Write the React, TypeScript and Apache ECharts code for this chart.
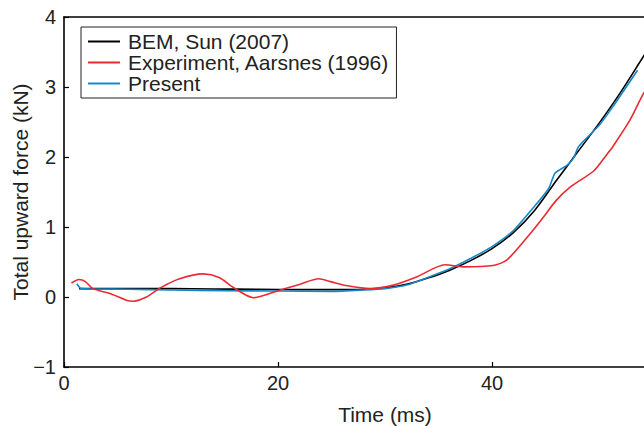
import React, { useEffect, useRef } from "react";
import * as echarts from "echarts";

// Time samples (ms) and total upward force (kN) for each curve
const bemTime = [1.4, 3, 6, 10, 14, 18, 22, 25, 28, 30, 32, 34, 36, 38, 40, 42, 44, 46, 48, 50, 52, 54, 55];
const bemForce = [0.12, 0.12, 0.12, 0.12, 0.115, 0.11, 0.105, 0.105, 0.11, 0.13, 0.18, 0.27, 0.38, 0.52, 0.69, 0.92, 1.24, 1.66, 2.07, 2.48, 2.92, 3.4, 3.64];

const expTime = [0.7, 1.4, 2.0, 2.7, 4.3, 5.9, 6.5, 7.7, 9.0, 10.8, 13.0, 14.5, 15.8, 17.7, 20.2, 22, 23.8, 24.9, 26.5, 28.6, 30.8, 33, 35.6, 37.3, 40.1, 41.4, 43.6, 44.8, 46.0, 47.3, 49.5, 50.7, 51.3, 52.9, 54.1, 55];
const expForce = [0.2, 0.25, 0.22, 0.12, 0.05, -0.05, -0.06, 0.0, 0.13, 0.26, 0.33, 0.28, 0.14, -0.01, 0.1, 0.18, 0.26, 0.22, 0.16, 0.12, 0.17, 0.29, 0.46, 0.43, 0.45, 0.53, 0.91, 1.14, 1.38, 1.57, 1.8, 2.03, 2.15, 2.53, 2.89, 3.1];

const presentTime = [1.2, 1.6, 3, 6, 10, 15, 20, 25, 28, 30, 32, 34, 36, 38, 40, 42, 44, 45.3, 45.9, 47, 47.6, 48.1, 50, 51.3, 53.6];
const presentForce = [0.19, 0.12, 0.115, 0.11, 0.1, 0.09, 0.085, 0.08, 0.1, 0.12, 0.17, 0.28, 0.4, 0.55, 0.72, 0.95, 1.3, 1.55, 1.77, 1.88, 1.98, 2.15, 2.45, 2.72, 3.24];

const seriesNames = ["BEM, Sun (2007)", "Experiment, Aarsnes (1996)", "Present"];
const seriesColors = ["#000000", "#ea2a30", "#1787c8"];

const FONT = "'Liberation Sans', Arial, Helvetica, sans-serif";

const pairs = (xs: number[], ys: number[]) => xs.map((x, i) => [x, ys[i]]);

export default function App() {
  const ref = useRef<HTMLDivElement>(null);

  useEffect(() => {
    if (!ref.current) return;
    const chart = echarts.init(ref.current, undefined, { renderer: "svg" });
    const axisLine = { show: true, onZero: false, lineStyle: { color: "#000", width: 1.6 } };
    chart.setOption({
      animation: false,
      backgroundColor: "#fff",
      textStyle: { fontFamily: FONT },
      // the plot area runs on past the right edge of the canvas
      grid: { left: 64, top: 17, bottom: 59, width: 642, containLabel: false, outerBoundsMode: "none" },
      legend: {
        data: seriesNames,
        orient: "vertical",
        left: 81,
        top: 27,
        padding: [4, 7, 4, 7],
        itemGap: 0,
        itemWidth: 32,
        itemHeight: 2,
        icon: "rect",
        borderColor: "#222",
        borderWidth: 1,
        textStyle: { fontFamily: FONT, fontSize: 21, color: "#222", lineHeight: 21, padding: [0, 0, 0, 3] },
      },
      xAxis: [
        {
          type: "value",
          min: 0,
          max: 60,
          interval: 20,
          name: "Time (ms)",
          nameLocation: "middle",
          nameGap: 37,
          nameMoveOverlap: false,
          nameTextStyle: { fontFamily: FONT, fontSize: 21, color: "#222" },
          axisLine,
          axisTick: { show: true, inside: true, length: 5, lineStyle: { color: "#000", width: 1.2 } },
          axisLabel: { fontFamily: FONT, fontSize: 20, color: "#222", margin: 6, showMaxLabel: false },
          splitLine: { show: false },
        },
        {
          type: "value",
          position: "top",
          min: 0,
          max: 60,
          axisLine,
          axisTick: { show: false },
          axisLabel: { show: false },
          splitLine: { show: false },
        },
      ],
      yAxis: {
        type: "value",
        min: -1,
        max: 4,
        interval: 1,
        name: "Total upward force (kN)",
        nameLocation: "middle",
        nameGap: 33,
        nameMoveOverlap: false,
        nameTextStyle: { fontFamily: FONT, fontSize: 21, color: "#222" },
        axisLine,
        axisTick: { show: true, inside: true, length: 5, lineStyle: { color: "#000", width: 1.2 } },
        axisLabel: {
          fontFamily: FONT,
          fontSize: 20,
          color: "#222",
          margin: 8,
          formatter: (v: number) => (v < 0 ? "\u2212" + Math.abs(v) : String(v)),
        },
        splitLine: { show: false },
      },
      series: [
        {
          name: seriesNames[0],
          type: "line",
          data: pairs(bemTime, bemForce),
          symbol: "none",
          smooth: 0.3,
          z: 2,
          lineStyle: { color: seriesColors[0], width: 1.6 },
          itemStyle: { color: seriesColors[0] },
        },
        {
          name: seriesNames[1],
          type: "line",
          data: pairs(expTime, expForce),
          symbol: "none",
          smooth: 0.25,
          z: 4,
          lineStyle: { color: seriesColors[1], width: 1.6 },
          itemStyle: { color: seriesColors[1] },
        },
        {
          name: seriesNames[2],
          type: "line",
          data: pairs(presentTime, presentForce),
          symbol: "none",
          smooth: 0.2,
          z: 3,
          lineStyle: { color: seriesColors[2], width: 1.6 },
          itemStyle: { color: seriesColors[2] },
        },
      ],
    });
    return () => chart.dispose();
  }, []);

  return (
    <div
      ref={ref}
      style={{ position: "fixed", left: 0, top: 0, width: 644, height: 426, background: "#fff" }}
    />
  );
}
